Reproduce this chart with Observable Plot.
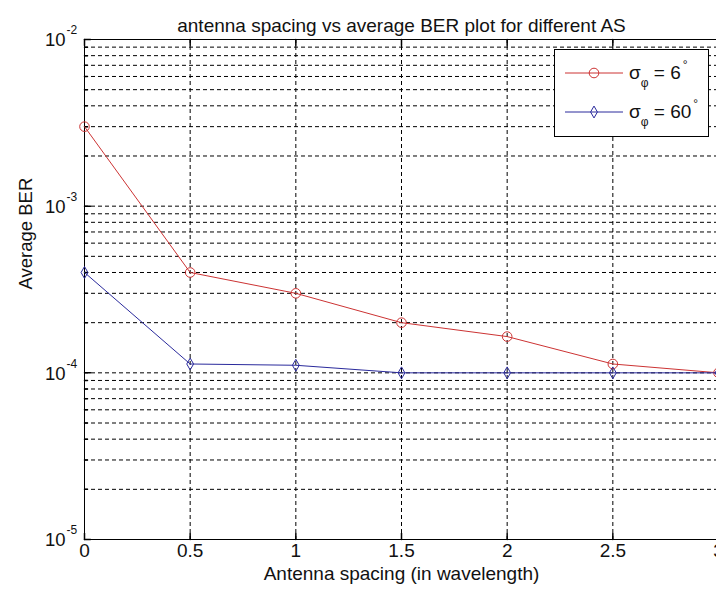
<!DOCTYPE html>
<html><head><meta charset="utf-8">
<script src="https://cdn.jsdelivr.net/npm/d3@7"></script>
<script src="https://cdn.jsdelivr.net/npm/@observablehq/plot@0.6"></script>
<style>
html,body{margin:0;padding:0;background:#fff;overflow:hidden;width:716px;height:592px}
#chart{width:716px;height:592px;overflow:hidden}
#chart svg{max-width:none !important}
</style></head><body><div id="chart"></div>
<script>
// ---- data ----
const spacing = [0, 0.5, 1, 1.5, 2, 2.5, 3];
const ber6 = [3e-3, 4e-4, 3e-4, 2e-4, 1.65e-4, 1.13e-4, 1e-4];
const ber60 = [4e-4, 1.13e-4, 1.11e-4, 1e-4, 1e-4, 1e-4, 1e-4];
const seriesLabels = [["σ", "φ", " = 6", "°"], ["σ", "φ", " = 60", "°"]];
const xTicks = [0, 0.5, 1, 1.5, 2, 2.5, 3];
const yMajor = [1e-5, 1e-4, 1e-3, 1e-2];
const mantissas = [2, 3, 4, 5, 6, 7, 8, 9];
const decades = [1e-5, 1e-4, 1e-3];
const titleText = "antenna spacing vs average BER plot for different AS";
const xLabel = "Antenna spacing (in wavelength)";
const yLabel = "Average BER";

const yMinor = decades.flatMap(d => mantissas.map(m => m * d));
const gridY = [...yMinor, 1e-4, 1e-3];
const gridX = xTicks.filter(d => d > 0 && d < 3);
const d6 = spacing.map((x, i) => ({x, y: ber6[i]}));
const d60 = spacing.map((x, i) => ({x, y: ber60[i]}));

const RED = "#cc3333", BLUE = "#2a2a9c", INK = "#111";
const FONT = "'Liberation Sans', Arial, Helvetica, sans-serif";
const tickShape = {draw(ctx, l) { ctx.moveTo(0, 0); ctx.lineTo(0, -l); }};
const dash = "4,3";

const chart = Plot.plot({
  width: 720, height: 592,
  marginLeft: 84, marginRight: 2, marginTop: 39, marginBottom: 53,
  style: {fontFamily: FONT, background: "white", overflow: "visible", maxWidth: "none"},
  x: {domain: [0, 3], axis: null},
  y: {type: "log", domain: [1e-5, 1e-2], axis: null},
  marks: [
    Plot.ruleY(gridY, {stroke: "black", strokeWidth: 1, strokeDasharray: dash}),
    Plot.ruleX(gridX, {stroke: "black", strokeWidth: 1, strokeDasharray: dash}),
    // inward ticks
    Plot.vector(xTicks, {x: d => d, frameAnchor: "bottom", length: 6, rotate: 0, anchor: "start", shape: tickShape, stroke: "black"}),
    Plot.vector(xTicks, {x: d => d, frameAnchor: "top", length: 6, rotate: 180, anchor: "start", shape: tickShape, stroke: "black"}),
    Plot.vector(yMajor, {y: d => d, frameAnchor: "left", length: 6, rotate: 90, anchor: "start", shape: tickShape, stroke: "black"}),
    Plot.vector(yMinor, {y: d => d, frameAnchor: "left", length: 3, rotate: 90, anchor: "start", shape: tickShape, stroke: "black"}),
    Plot.frame({stroke: "black", strokeWidth: 1}),
    // series
    Plot.line(d6, {x: "x", y: "y", stroke: RED, strokeWidth: 1}),
    Plot.dot(d6, {x: "x", y: "y", stroke: RED, fill: "none", r: 4.8, symbol: "circle", strokeWidth: 1}),
    Plot.line(d60, {x: "x", y: "y", stroke: BLUE, strokeWidth: 1}),
    Plot.dot(d60, {x: "x", y: "y", stroke: BLUE, fill: "none", r: 3.6, symbol: "diamond", strokeWidth: 1}),
    // tick labels
    Plot.text(xTicks, {x: d => d, frameAnchor: "bottom", dy: 17.5, text: d => String(d), fontSize: 19, fill: INK}),
    Plot.text(yMajor, {y: d => d, frameAnchor: "left", dx: -19, dy: 1, textAnchor: "end", text: () => "10", fontSize: 18.5, fill: INK}),
    Plot.text(yMajor, {y: d => d, frameAnchor: "left", dx: -18, dy: -9, textAnchor: "start", text: d => String(Math.round(Math.log10(d))), fontSize: 12, fill: INK}),
    // title and axis labels
    Plot.text([titleText], {frameAnchor: "top", dy: -21, text: d => d, fontSize: 19, fill: INK}),
    Plot.text([xLabel], {frameAnchor: "bottom", dy: 40, text: d => d, fontSize: 19, fill: INK}),
    Plot.text([yLabel], {frameAnchor: "left", dx: -58, rotate: -90, text: d => d, fontSize: 18.5, fill: INK})
  ]
});
chart.style.maxWidth = "none";
document.getElementById("chart").appendChild(chart);

// ---- legend ----
const svg = d3.select(chart);
const lg = svg.append("g").attr("font-family", FONT).attr("fill", INK).attr("text-anchor", "start");
lg.append("rect").attr("x", 554.5).attr("y", 49.5).attr("width", 154).attr("height", 87)
  .attr("fill", "white").attr("stroke", "black").attr("stroke-width", 1);
const rows = [{y: 73, color: RED, sym: d3.symbolCircle, size: Math.PI * 4.8 * 4.8, lab: seriesLabels[0]},
              {y: 112, color: BLUE, sym: d3.symbolDiamond, size: Math.PI * 3.6 * 3.6, lab: seriesLabels[1]}];
rows.forEach(r => {
  lg.append("line").attr("x1", 565).attr("x2", 623).attr("y1", r.y).attr("y2", r.y)
    .attr("stroke", r.color).attr("stroke-width", 1);
  lg.append("path").attr("d", d3.symbol(r.sym, r.size)()).attr("transform", `translate(594,${r.y})`)
    .attr("fill", "none").attr("stroke", r.color);
  const t = lg.append("text").attr("x", 629).attr("y", r.y + 6).attr("font-size", 19).attr("text-anchor", "start");
  t.append("tspan").text(r.lab[0]);
  t.append("tspan").attr("font-size", 12).attr("dy", 8).text(r.lab[1]);
  t.append("tspan").attr("font-size", 19).attr("dy", -8).text(r.lab[2]);
  t.append("tspan").attr("font-size", 12).attr("dy", -10).attr("dx", 2).text(r.lab[3]);
});
</script></body></html>
